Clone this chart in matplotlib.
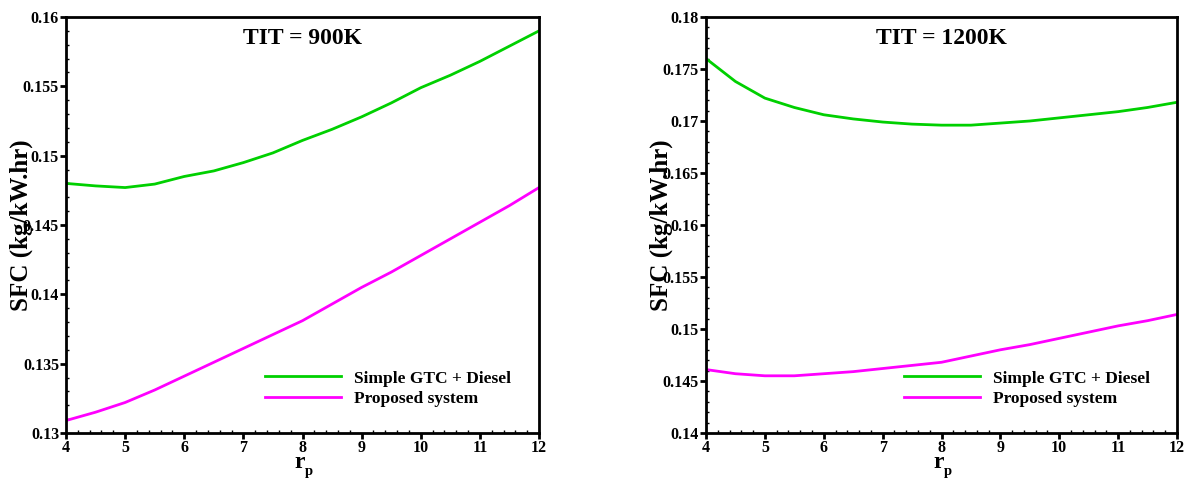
import matplotlib
matplotlib.use("Agg")
import matplotlib.pyplot as plt
from matplotlib.ticker import MultipleLocator, AutoMinorLocator

plt.rcParams['font.family'] = ['Liberation Serif', 'DejaVu Serif']
plt.rcParams['font.weight'] = 'bold'

rp = [4, 4.5, 5, 5.5, 6, 6.5, 7, 7.5, 8, 8.5, 9, 9.5, 10, 10.5, 11, 11.5, 12]
gtc_900 = [0.1480, 0.14782, 0.1477, 0.14795, 0.1485, 0.1489, 0.1495, 0.1502, 0.1511,
           0.1519, 0.1528, 0.1538, 0.1549, 0.1558, 0.1568, 0.1579, 0.1590]
prop_900 = [0.1309, 0.1315, 0.1322, 0.1331, 0.1341, 0.1351, 0.1361, 0.1371, 0.1381,
            0.1393, 0.1405, 0.1416, 0.1428, 0.1440, 0.1452, 0.1464, 0.1477]
gtc_1200 = [0.1760, 0.1738, 0.1722, 0.1713, 0.1706, 0.1702, 0.1699, 0.1697, 0.1696,
            0.1696, 0.1698, 0.1700, 0.1703, 0.1706, 0.1709, 0.1713, 0.1718]
prop_1200 = [0.1461, 0.1457, 0.1455, 0.1455, 0.1457, 0.1459, 0.1462, 0.1465, 0.1468,
             0.1474, 0.1480, 0.1485, 0.1491, 0.1497, 0.1503, 0.1508, 0.1514]

titles = ["TIT = 900K", "TIT = 1200K"]
labels = ["Simple GTC + Diesel", "Proposed system"]
green = "#00d000"
magenta = "#ff00ff"

fig = plt.figure(figsize=(11.88, 4.79), dpi=100)
axL = fig.add_axes([66/1188, 46/479, 473/1188, 416/479])
axR = fig.add_axes([706/1188, 46/479, 471/1188, 416/479])

configs = [
    (axL, gtc_900, prop_900, (0.13, 0.16), titles[0]),
    (axR, gtc_1200, prop_1200, (0.14, 0.18), titles[1]),
]
for ax, g, p, ylim, title in configs:
    ax.plot(rp, g, color=green, lw=2, label=labels[0])
    ax.plot(rp, p, color=magenta, lw=2, label=labels[1])
    ax.set_xlim(4, 12)
    ax.set_ylim(*ylim)
    ax.xaxis.set_major_locator(MultipleLocator(1))
    ax.yaxis.set_major_locator(MultipleLocator(0.005))
    ax.xaxis.set_minor_locator(AutoMinorLocator(5))
    ax.yaxis.set_minor_locator(AutoMinorLocator(5))
    ax.tick_params(which='major', direction='out', length=4, width=2, labelsize=11.5, pad=1,
                   top=False, right=False)
    ax.tick_params(which='minor', direction='in', length=2.5, width=1, top=False, right=False)
    for s in ax.spines.values():
        s.set_linewidth(2)
    ax.set_yticklabels([f"{v:g}" for v in ax.get_yticks()], fontweight='bold')
    for lbl in ax.get_xticklabels():
        lbl.set_fontweight('bold')
    # x-axis label r_p (r with a low subscript p)
    ax.text(0.495, -0.0845, "r", transform=ax.transAxes, ha='center', va='baseline',
            fontsize=17, fontweight='bold', clip_on=False)
    ax.text(0.506, -0.102, "p", transform=ax.transAxes, ha='left', va='baseline',
            fontsize=10.5, fontweight='bold', clip_on=False)
    ax.set_ylabel("SFC (kg/kW.hr)", fontsize=18, fontweight='bold')
    ax.yaxis.label.set_va('center')
    ax.yaxis.set_label_coords(-0.095, 0.5)
    ax.text(0.5, 0.935, title, transform=ax.transAxes, ha='center', va='baseline',
            fontsize=17, fontweight='bold')
    ax.legend(loc='center left', bbox_to_anchor=(0.421, 0.106), frameon=False,
              borderaxespad=0, borderpad=0,
              fontsize=12.5, handlelength=4.37, handletextpad=0.75, labelspacing=0.27)

fig.savefig("out.png", dpi=100)
